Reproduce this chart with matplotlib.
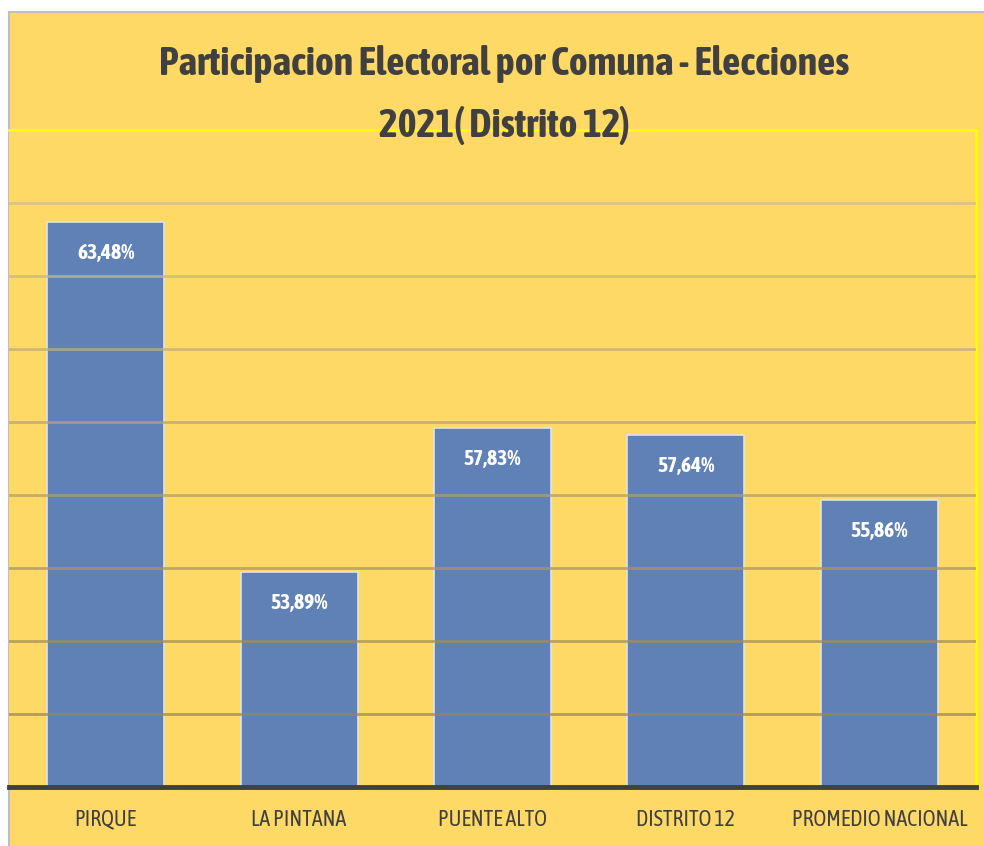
import matplotlib
matplotlib.use("Agg")
import matplotlib.pyplot as plt
import numpy as np
from matplotlib.colors import LinearSegmentedColormap
from matplotlib.font_manager import FontProperties, fontManager
from matplotlib.textpath import TextPath

# data
comunas = ["PIRQUE", "LA PINTANA", "PUENTE ALTO", "DISTRITO 12", "PROMEDIO NACIONAL"]
participacion = [63.48, 53.89, 57.83, 57.64, 55.86]
etiquetas = ["63,48%", "53,89%", "57,83%", "57,64%", "55,86%"]
y_ticks = [48, 50, 52, 54, 56, 58, 60, 62, 64, 66]
titulo1 = "Participacion Electoral por Comuna - Elecciones"
titulo2 = "2021( Distrito 12)"

amarillo = "#FFD966"
azul = "#6081B6"
gris_texto = "#404040"

# the original is Calibri squeezed sideways; pick the installed family whose
# proportions come closest (cap height px, width px)
roles = {
    "title": (titulo1, "bold", 27, 714),
    "tick": ("PROMEDIO NACIONAL", "normal", 16, 167),
    "value": ("63,48%", "bold", 15, 57),
}
candidatos = ["Carlito", "Fira Sans Condensed", "Roboto Condensed", "PT Sans Narrow",
              "Cabin Condensed", "Encode Sans Semi Condensed", "Asap Condensed",
              "IBM Plex Sans Condensed", "Open Sans Condensed", "Barlow Semi Condensed"]
instaladas = set(f.name for f in fontManager.ttflist)
candidatos = [c for c in candidatos if c in instaladas] or ["DejaVu Sans"]


def medir(fam, texto, peso, cap_px):
    fp = FontProperties(family=fam, weight=peso)
    cap = TextPath((0, 0), "H", size=100, prop=fp).get_extents().height / 100
    size = cap_px * 0.72 / cap
    ancho = TextPath((0, 0), texto, size=size, prop=fp).get_extents().width / 0.72
    return size, ancho


mejor, err_min, tamanos = None, 1e9, {}
for fam in candidatos:
    err, tam = 0, {}
    for k, (texto, peso, cap_px, ancho_ref) in roles.items():
        size, ancho = medir(fam, texto, peso, cap_px)
        # split the difference between matching height and matching width
        tam[k] = size * (ancho_ref / ancho) ** 0.5
        err += abs(ancho / ancho_ref - 1)
    if err < err_min:
        mejor, err_min, tamanos = fam, err, tam
fam = [mejor, "DejaVu Sans"]

fig = plt.figure(figsize=(9.84, 8.46), dpi=100)
fig.patch.set_facecolor("white")

# yellow chart area, thin grey border on top and left
fondo = plt.Rectangle((9 / 984, -0.01), 1, 1.01 - 12 / 846, transform=fig.transFigure,
                      facecolor=amarillo, edgecolor="#BFBFBF", linewidth=1.5, zorder=-5)
fig.patches.append(fondo)

ax = fig.add_axes([9 / 984, 59 / 846, 967 / 984, (787 - 130) / 846])
ax.set_facecolor(amarillo)

x = np.arange(len(comunas))
ax.bar(x, participacion, width=0.605, color=azul, edgecolor="#DDE3EE", linewidth=1.2, zorder=2)

ax.set_xlim(-0.5, len(comunas) - 0.5)
ax.set_ylim(y_ticks[0], y_ticks[-1])
ax.set_yticks(y_ticks)
ax.tick_params(axis="y", left=False, labelleft=False)
ax.tick_params(axis="x", bottom=False, pad=12)
ax.set_xticks(x)
ax.set_xticklabels(comunas, fontsize=tamanos["tick"], color=gris_texto, family=fam)

# gridlines drawn over the bars, darker near the base
grid_cols = LinearSegmentedColormap.from_list("g", ["#9C8650", "#CDBE8E"])
for i, t in enumerate(y_ticks[1:-1]):
    c = grid_cols(i / (len(y_ticks) - 3))
    ax.axhline(t, color=c, linewidth=2, alpha=0.75, zorder=3)

for s in ["top", "right"]:
    ax.spines[s].set_color("#FFFF00")
    ax.spines[s].set_linewidth(2)
ax.spines["left"].set_visible(False)
ax.spines["bottom"].set_color(gris_texto)
ax.spines["bottom"].set_linewidth(3.5)
ax.spines["bottom"].set_zorder(4)

for xi, v, lab in zip(x, participacion, etiquetas):
    ax.annotate(lab, (xi, v), xytext=(0, -21), textcoords="offset points",
                ha="center", va="center_baseline", color="white", fontsize=tamanos["value"],
                fontweight="bold", family=fam, zorder=5)

fig.text(504 / 984, 1 - 75 / 846, titulo1, ha="center", va="baseline",
         fontsize=tamanos["title"], fontweight="bold", color=gris_texto, family=fam)
fig.text(504 / 984, 1 - 137 / 846, titulo2, ha="center", va="baseline",
         fontsize=tamanos["title"], fontweight="bold", color=gris_texto, family=fam)

fig.savefig("out.png", dpi=100, facecolor=fig.get_facecolor())
